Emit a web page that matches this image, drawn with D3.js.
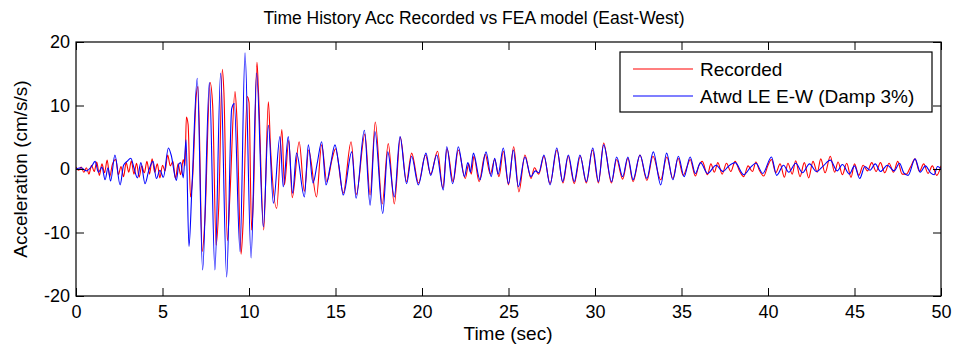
<!DOCTYPE html>
<html lang="en-US">
<head>
  <meta charset="UTF-8"/>
  <title>Time History Acc Recorded vs FEA model (East-West)</title>
  <style>
    body { margin: 0; background: #fff; }
    svg text { font-family: "Liberation Sans", Arial, Helvetica, sans-serif; fill: #000; }
  </style>
</head>
<body>
<script src="https://cdn.jsdelivr.net/npm/d3@7"></script>
<script>

// series labels
var seriesNames = ["Recorded", "Atwd LE E-W (Damp 3%)"];
var seriesColors = ["#ff0000", "#0000ff"];

// tick values
var xTicks = [0, 5, 10, 15, 20, 25, 30, 35, 40, 45, 50];
var yTicks = [-20, -10, 0, 10, 20];

// recorded acceleration, [time (s), acc (cm/s/s)] (peaks/troughs)
var recorded = [
  [0,0.3],[0.15,-0.2],[0.3,0.3],[0.45,-0.5],[0.6,0.2],[0.75,-0.8],[0.9,0.6],[1.05,-0.4],[1.2,1.1],[1.35,-1.0],
  [1.5,0.8],[1.65,-0.6],[1.8,1.4],[1.95,-1.2],[2.1,0.7],[2.3,1.5],[2.45,-0.9],[2.6,0.4],[2.75,-1.2],[2.9,1.0],
  [3.05,-0.5],[3.2,1.3],[3.35,-0.8],[3.5,0.9],[3.65,-1.3],[3.8,0.5],[3.95,-0.6],[4.1,1.2],[4.25,-0.8],[4.4,1.6],
  [4.55,-0.5],[4.7,0.8],[4.85,-1.4],[5.0,0.6],[5.15,-0.3],[5.3,2.2],[5.45,0.5],[5.6,1.2],[5.75,-1.5],[5.9,0.8],
  [6.05,-0.9],[6.2,1.5],[6.3,0.5],[6.38,8.2],[6.48,7.0],[6.62,-4.4],[6.75,-1.0],[6.95,11.5],[7.05,13.0],[7.3,-13.0],
  [7.45,-8.0],[7.75,13.6],[7.9,10.0],[8.1,-12.0],[8.25,-6.0],[8.46,15.7],[8.55,12.0],[8.75,-11.3],[8.9,-4.0],[9.19,12.2],
  [9.3,8.0],[9.54,-13.4],[9.65,-9.0],[9.9,11.4],[10.0,10.5],[10.15,-9.6],[10.25,-5.0],[10.46,16.8],[10.55,12.0],[10.85,-9.6],
  [11.12,10.6],[11.25,3.0],[11.6,-6.2],[11.9,6.2],[12.05,-2.5],[12.3,4.5],[12.5,-4.5],[12.9,4.3],[13.2,-3.5],[13.45,3.0],
  [13.9,-4.4],[14.2,3.8],[14.5,-2.0],[14.8,1.5],[15.0,3.2],[15.45,-3.8],[15.9,4.3],[16.2,-4.0],[16.7,5.5],[17.0,-4.1],
  [17.3,7.4],[17.7,-5.5],[18.05,4.0],[18.4,-5.5],[18.75,5.0],[19.1,-2.0],[19.4,2.5],[19.8,-2.2],[20.2,2.2],[20.5,-0.8],
  [20.9,2.8],[21.2,-3.0],[21.45,3.2],[21.8,-2.0],[22.1,3.0],[22.5,-1.5],[22.7,0.8],[22.85,-0.8],[23.0,2.0],[23.3,-2.0],
  [23.65,2.3],[23.95,-0.8],[24.2,1.5],[24.45,-1.2],[24.7,2.8],[25.0,-2.5],[25.3,3.5],[25.6,-3.6],[25.95,2.2],[26.3,-1.5],
  [26.5,0.2],[26.75,-0.8],[27.05,2.0],[27.4,-2.3],[27.8,3.0],[28.15,-2.2],[28.45,2.0],[28.8,-2.3],[29.15,2.0],[29.5,-2.2],
  [29.85,3.0],[30.2,-2.2],[30.5,4.1],[30.95,-2.2],[31.25,1.5],[31.6,-1.6],[31.9,1.7],[32.2,-2.0],[32.6,2.2],[33.0,-1.8],
  [33.35,2.0],[33.8,-1.7],[34.15,1.9],[34.5,-1.5],[34.8,1.7],[35.1,-1.0],[35.35,0.6],[35.5,1.5],[35.8,-1.1],[36.0,0.5],
  [36.2,1.2],[36.5,-0.9],[36.7,0.8],[36.9,-0.5],[37.1,1.0],[37.35,-0.8],[37.6,0.9],[37.85,-0.4],[38.1,1.2],[38.35,-0.3],
  [38.6,-1.2],[38.85,0.5],[39.1,-0.4],[39.3,1.1],[39.5,-0.2],[39.75,-1.1],[40.0,0.6],[40.2,1.5],[40.45,-0.6],[40.7,0.8],
  [40.95,-1.3],[41.15,0.9],[41.4,-0.8],[41.6,1.3],[41.85,-1.2],[42.1,1.0],[42.35,-1.4],[42.6,1.2],[42.85,-0.5],[43.05,1.6],
  [43.3,-0.6],[43.6,2.0],[43.85,-0.5],[44.05,1.1],[44.3,-0.9],[44.55,0.9],[44.8,-1.3],[45.0,0.8],[45.25,-1.0],[45.5,0.6],
  [45.75,-0.3],[46.0,1.0],[46.25,-0.4],[46.5,1.0],[46.75,-0.6],[47.0,0.9],[47.25,-0.5],[47.5,1.2],[47.75,-0.8],[48.0,-0.8],
  [48.25,0.4],[48.5,1.6],[48.75,-0.4],[49.0,0.8],[49.25,-0.7],[49.5,0.5],[49.75,-1.0],[50,0.5]
];

// FEA model acceleration, [time (s), acc (cm/s/s)]
var model = [
  [0,0],[0.3,0.2],[0.6,-0.3],[0.9,0.4],[1.1,1.2],[1.3,-0.5],[1.5,0.3],[1.68,-1.7],[1.85,0.2],[2.0,-1.9],
  [2.25,2.2],[2.55,-2.5],[2.75,0.6],[2.95,1.2],[3.17,1.7],[3.35,0.2],[3.55,-1.4],[3.75,1.0],[3.99,-2.3],[4.2,-0.3],
  [4.45,1.2],[4.65,-1.5],[4.85,-0.2],[5.05,-1.3],[5.34,3.3],[5.5,2.2],[5.8,-1.8],[5.95,0.8],[6.05,1.0],[6.2,-1.4],
  [6.36,4.6],[6.53,-12.2],[6.7,-3.0],[7.01,14.3],[7.32,-15.9],[7.71,13.6],[8.03,-15.9],[8.36,15.1],[8.71,-17.0],[9.0,9.5],
  [9.15,10.3],[9.48,-13.0],[9.77,18.3],[10.12,-14.0],[10.44,15.1],[10.83,-9.1],[11.12,6.9],[11.41,-5.4],[11.79,5.1],[11.98,-2.8],
  [12.27,5.1],[12.52,-3.8],[12.75,2.5],[13.2,-4.4],[13.43,3.8],[13.7,-2.2],[13.95,1.0],[14.2,4.3],[14.45,-2.5],[14.7,0.5],
  [14.97,3.8],[15.2,0.5],[15.45,-4.1],[15.94,2.7],[16.19,-4.6],[16.67,6.1],[17.0,-5.7],[17.28,5.9],[17.73,-7.0],[18.02,2.7],
  [18.4,-4.4],[18.73,5.1],[19.11,-2.3],[19.4,2.0],[19.79,-2.5],[20.23,2.5],[20.5,-1.0],[20.85,2.2],[21.23,-3.3],[21.43,3.5],
  [21.77,-2.3],[22.1,3.5],[22.45,-1.2],[22.65,1.0],[22.8,-0.5],[22.97,2.5],[23.35,-1.7],[23.7,2.7],[24.0,-1.2],[24.2,1.7],
  [24.4,-0.8],[24.7,3.3],[25.0,-2.3],[25.28,3.0],[25.57,-2.8],[25.95,1.9],[26.3,-1.2],[26.55,-0.3],[26.75,-0.6],[27.05,2.2],
  [27.4,-2.5],[27.79,3.3],[28.13,-2.0],[28.46,2.2],[28.8,-2.0],[29.13,2.2],[29.5,-2.0],[29.87,3.3],[30.2,-2.0],[30.5,3.8],
  [30.96,-2.0],[31.25,1.9],[31.6,-1.2],[31.9,1.9],[32.2,-1.7],[32.6,2.2],[33.0,-1.5],[33.37,2.7],[33.8,-2.5],[34.14,2.5],
  [34.5,-1.7],[34.82,2.0],[35.15,-1.2],[35.5,1.9],[35.8,-0.7],[36.1,1.0],[36.5,-0.7],[37.0,0.6],[37.4,-0.4],[37.7,0.4],
  [38.1,1.0],[38.6,-0.9],[39.0,0.3],[39.3,0.9],[39.7,-0.7],[40.2,1.9],[40.5,-1.0],[40.9,0.6],[41.2,-0.5],[41.6,0.9],
  [42.0,-0.6],[42.4,0.8],[42.8,-0.4],[43.2,0.5],[43.6,1.4],[44.0,-0.3],[44.3,0.7],[44.7,-0.8],[45.0,0.5],[45.3,-1.5],
  [45.6,0.4],[45.9,-0.2],[46.2,0.8],[46.5,-0.4],[46.9,0.6],[47.3,-0.3],[47.6,0.9],[47.85,-0.6],[48.1,-1.0],[48.5,1.6],
  [48.8,-0.5],[49.1,0.5],[49.4,-0.6],[49.6,-0.9],[49.8,0.4],[50,0.0]
];

var margin = {top: 42, right: 13, bottom: 51, left: 76}
  , width  = 954 - margin.left - margin.right
  , height = 347 - margin.top - margin.bottom;

var xScale = d3.scaleLinear().domain([0, 50]).range([0, width]);
var yScale = d3.scaleLinear().domain([-20, 20]).range([height, 0]);

var svg = d3.select("body").append("svg")
    .attr("width", 954)
    .attr("height", 347);

var g = svg.append("g")
    .attr("transform", "translate(" + margin.left + "," + margin.top + ")");

g.append("clipPath").attr("id", "clip").append("rect").attr("width", width).attr("height", height);

// line generator, rounded through the read peaks
var line = d3.line()
    .curve(d3.curveMonotoneX)
    .x(function(d) { return xScale(d[0]); })
    .y(function(d) { return yScale(d[1]); });

[recorded, model].forEach(function(data, i) {
  g.append("path")
    .datum(data)
    .attr("clip-path", "url(#clip)")
    .attr("fill", "none")
    .attr("stroke", seriesColors[i])
    .attr("stroke-width", 1.1)
    .attr("stroke-linejoin", "round")
    .attr("d", line);
});

// axes, MATLAB style: inward ticks on all four sides
var tk = 8;
var fmt = function(d) { return String(d); };  // plain hyphen minus
function styleAxis(sel) {
  sel.select(".domain").remove();
  sel.selectAll(".tick line").attr("stroke", "#000");
  sel.selectAll(".tick text").style("font-size", "18px");
}

g.append("g")
    .attr("transform", "translate(0," + height + ")")
    .call(d3.axisBottom(xScale).tickValues(xTicks).tickFormat(fmt).tickSizeInner(-tk).tickSizeOuter(0).tickPadding(9))
    .call(styleAxis);

g.append("g")
    .call(d3.axisTop(xScale).tickValues(xTicks).tickSizeInner(-tk).tickSizeOuter(0).tickFormat(""))
    .call(styleAxis);

g.append("g")
    .call(d3.axisLeft(yScale).tickValues(yTicks).tickFormat(fmt).tickSizeInner(-tk).tickSizeOuter(0).tickPadding(6))
    .call(styleAxis);

g.append("g")
    .attr("transform", "translate(" + width + ",0)")
    .call(d3.axisRight(yScale).tickValues(yTicks).tickSizeInner(-tk).tickSizeOuter(0).tickFormat(""))
    .call(styleAxis);

// box
g.append("rect")
    .attr("width", width)
    .attr("height", height)
    .attr("fill", "none")
    .attr("stroke", "#000")
    .attr("stroke-width", 1.2);

// title and labels
svg.append("text")
   .attr("x", 474)
   .attr("y", 24)
   .attr("text-anchor", "middle")
   .style("font-size", "17.5px")
   .text("Time History Acc Recorded vs FEA model (East-West)");

svg.append("text")
   .attr("x", 508)
   .attr("y", 340)
   .attr("text-anchor", "middle")
   .style("font-size", "19px")
   .text("Time (sec)");

svg.append("text")
   .attr("transform", "translate(27," + (margin.top + height / 2) + ") rotate(-90)")
   .attr("text-anchor", "middle")
   .style("font-size", "19px")
   .text("Acceleration (cm/s/s)");

// legend
var legend = svg.append("g").attr("transform", "translate(620,52)");
legend.append("rect")
    .attr("width", 312)
    .attr("height", 60)
    .attr("fill", "#fff")
    .attr("stroke", "#000")
    .attr("stroke-width", 1.2);

seriesNames.forEach(function(name, i) {
  var y = 17 + i * 27;
  legend.append("line")
      .attr("x1", 13).attr("x2", 73)
      .attr("y1", y).attr("y2", y)
      .attr("stroke", seriesColors[i])
      .attr("stroke-width", 1.1);
  legend.append("text")
      .attr("x", 80)
      .attr("y", y)
      .attr("dy", "0.35em")
      .style("font-size", "19px")
      .text(name);
});

</script>
</body>
</html>
